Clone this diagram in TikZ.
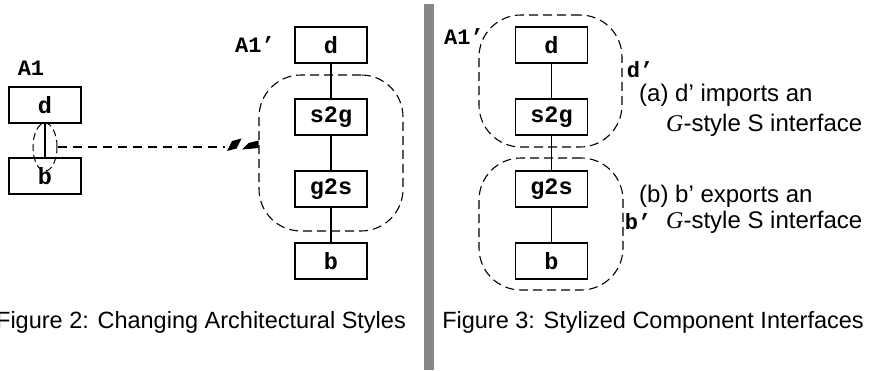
\documentclass[tikz,border=0pt]{standalone}
\usepackage{fontspec}
\setmainfont{Liberation Sans}
\newfontfamily\monob{Liberation Mono}[BoldFont={* Bold}]
\newfontfamily\serifit{Liberation Serif}
\usetikzlibrary{shapes.geometric}
\begin{document}
\begin{tikzpicture}[x=1pt,y=-1pt,
  comp/.style={draw,line width=1.2pt,minimum width=72pt,minimum height=36pt,inner sep=0pt,
    font=\monob\bfseries\fontsize{23.5}{23.5}\selectfont},
  lbl/.style={font=\monob\bfseries\fontsize{22}{22}\selectfont,inner sep=0pt},
  region/.style={draw,line width=1.1pt,dash pattern=on 9pt off 5pt,rounded corners=42pt,inner sep=0pt},
  note/.style={font=\fontsize{24}{24}\selectfont,inner sep=0pt,anchor=west},
  captext/.style={font=\fontsize{23.5}{23.5}\selectfont,inner sep=0pt},
  link/.style={line width=1.2pt}]
\useasboundingbox (0,0) rectangle (872,370);
% ---------- Figure 2 left ----------
\node[lbl] (A1) at (31,68) {A1};
\node[comp] (d1) at (45,105) {d};
\node[comp] (b1) at (45,176) {b};
\draw[link] (d1) -- (b1);
\node[draw,ellipse,line width=1pt,dash pattern=on 7pt off 4pt,minimum width=24pt,minimum height=48pt,inner sep=0pt] (ell) at (45,147) {};
% ---------- Figure 2 right ----------
\node[lbl] (A1p) at (255,45) {A1’};
\node[comp] (d2) at (331,45) {d};
\node[comp] (s2) at (331,117) {s2g};
\node[comp] (g2) at (331,189) {g2s};
\node[comp] (b2) at (331,261) {b};
\draw[link] (d2) -- (s2);
\draw[link] (s2) -- (g2);
\draw[link] (g2) -- (b2);
\node[region,minimum width=144pt,minimum height=156pt] (reg2) at (331,153) {};
\coordinate (tipend) at (ell.east -| reg2.west);
\draw[line width=1.2pt,dash pattern=on 9pt off 6pt] (ell.east) -- ([xshift=-33pt]tipend);
\fill (227,151) -- (232,141) -- (241.5,138.5) -- (236.5,148.5) -- cycle;
\fill (242,149.5) -- (248.5,143) -- (258.5,140.5) -- (258.5,148) -- cycle;
% ---------- separator ----------
\fill[black!47] (424,4) rectangle (434,370);
% ---------- Figure 3 ----------
\node[lbl] (A1q) at (464,37) {A1’};
\node[comp] (d3) at (551.5,45) {d};
\node[comp] (s3) at (551.5,117) {s2g};
\node[comp] (g3) at (551.5,189) {g2s};
\node[comp] (b3) at (551.5,261) {b};
\draw[link] (d3) -- (s3);
\draw[link] (s3) -- (g3);
\draw[link] (g3) -- (b3);
\node[region,minimum width=143pt,minimum height=132pt] (regd) at (550.5,81) {};
\node[region,minimum width=144pt,minimum height=132pt] (regb) at (551,224) {};
\node[lbl] (dp) at (640,70) {d’};
\node[lbl] (bp) at (638,222) {b’};
\node[note] (na1) at (639,95) {(a) d’ imports an};
\node[note] (na2) at (666,125) {{\serifit\itshape G}-style S interface};
\node[note] (nb1) at (639,196) {(b) b’ exports an};
\node[note] (nb2) at (666,222) {{\serifit\itshape G}-style S interface};
% ---------- captions ----------
\node[captext] (cap2) at (201,322) {Figure 2: Changing Architectural Styles};
\node[captext] (cap3) at (653,322) {Figure 3: Stylized Component Interfaces};
\end{tikzpicture}
\end{document}
